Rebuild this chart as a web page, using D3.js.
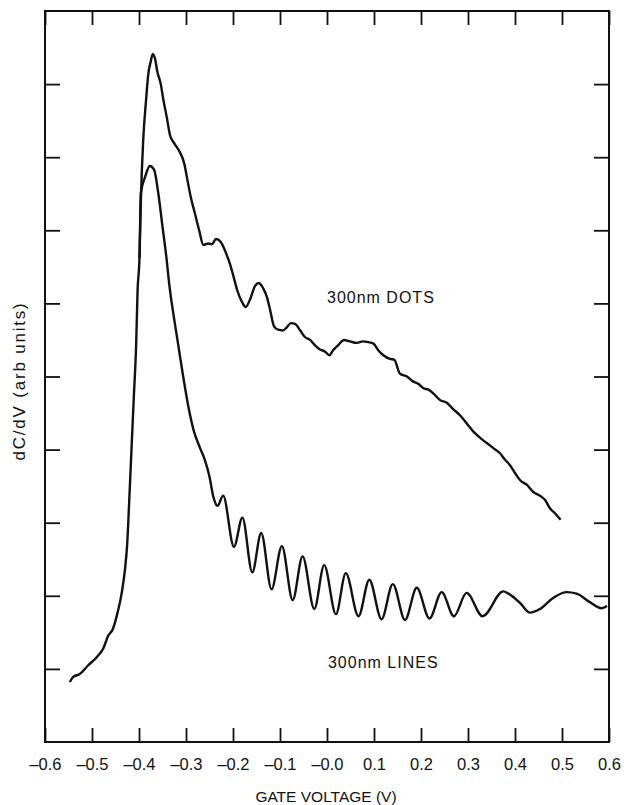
<!DOCTYPE html>
<html>
<head>
<meta charset="utf-8">
<script src="https://cdn.jsdelivr.net/npm/d3@7"></script>
<style>
  body { margin: 0; background: #fff; }
  svg text { font-family: "Liberation Sans", Arial, sans-serif; fill: #111; }
</style>
</head>
<body>
<svg id="chart" width="624" height="805"></svg>
<script>
// gate voltage ticks
const xTicks = [-0.6, -0.5, -0.4, -0.3, -0.2, -0.1, 0, 0.1, 0.2, 0.3, 0.4, 0.5, 0.6];
const xTickLabels = ['\u20130.6', '\u20130.5', '\u20130.4', '\u20130.3', '\u20130.2', '\u20130.1',
  '\u20130.0', '0.1', '0.2', '0.3', '0.4', '0.5', '0.6'];
const yTicks = [1, 2, 3, 4, 5, 6, 7, 8, 9];

// 300nm LINES: [gate voltage, dC/dV]
const linesV = [-0.547, -0.540, -0.526, -0.508, -0.490, -0.476, -0.465, -0.456, -0.446, -0.437,
  -0.430, -0.425, -0.421, -0.416, -0.411, -0.406, -0.403, -0.399, -0.396, -0.387,
  -0.377, -0.368, -0.359, -0.350, -0.341, -0.336, -0.326, -0.316, -0.306, -0.295,
  -0.284, -0.270, -0.260, -0.250, -0.242, -0.233, -0.221, -0.198, -0.180, -0.159,
  -0.140, -0.118, -0.096, -0.073, -0.052, -0.027, -0.006, 0.019, 0.040, 0.067,
  0.090, 0.116, 0.140, 0.166, 0.191, 0.218, 0.244, 0.270, 0.297, 0.331,
  0.375, 0.386, 0.411, 0.432, 0.453, 0.481, 0.510, 0.531, 0.560, 0.584, 0.596];
const linesY = [0.82, 0.89, 0.93, 1.05, 1.16, 1.28, 1.46, 1.54, 1.76, 2.03,
  2.35, 2.72, 3.27, 4.00, 4.72, 5.45, 6.18, 6.62, 7.51, 7.73,
  7.88, 7.83, 7.51, 7.05, 6.59, 6.28, 5.82, 5.41, 5.00, 4.59,
  4.27, 4.02, 3.86, 3.63, 3.36, 3.23, 3.37, 2.67, 3.07, 2.32,
  2.86, 2.09, 2.68, 1.94, 2.54, 1.82, 2.42, 1.75, 2.31, 1.72,
  2.22, 1.68, 2.16, 1.67, 2.11, 1.69, 2.05, 1.72, 2.04, 1.72,
  2.06, 2.03, 1.90, 1.77, 1.82, 1.97, 2.05, 2.03, 1.91, 1.83, 1.86];

// 300nm DOTS
const dotsV = [-0.399, -0.396, -0.391, -0.385, -0.380, -0.375, -0.371, -0.366, -0.361, -0.354,
  -0.348, -0.341, -0.334, -0.325, -0.314, -0.304, -0.297, -0.290, -0.281, -0.272,
  -0.263, -0.253, -0.245, -0.236, -0.226, -0.215, -0.206, -0.199, -0.191, -0.181,
  -0.173, -0.164, -0.153, -0.145, -0.136, -0.128, -0.121, -0.113, -0.104, -0.094,
  -0.086, -0.077, -0.068, -0.057, -0.047, -0.036, -0.026, -0.015, -0.004, 0.005,
  0.013, 0.024, 0.036, 0.049, 0.063, 0.077, 0.088, 0.099, 0.109, 0.120,
  0.134, 0.143, 0.155, 0.170, 0.184, 0.194, 0.205, 0.216, 0.226, 0.240,
  0.255, 0.269, 0.283, 0.297, 0.311, 0.326, 0.340, 0.354, 0.368, 0.379,
  0.389, 0.400, 0.411, 0.425, 0.439, 0.453, 0.464, 0.474, 0.485, 0.497];
const dotsY = [6.62, 7.42, 8.24, 8.78, 9.15, 9.31, 9.41, 9.35, 9.17, 9.01,
  8.78, 8.55, 8.30, 8.19, 8.08, 7.92, 7.69, 7.46, 7.23, 7.00,
  6.80, 6.82, 6.81, 6.88, 6.84, 6.69, 6.53, 6.37, 6.18, 6.02,
  5.95, 6.05, 6.24, 6.28, 6.21, 6.09, 5.91, 5.69, 5.64, 5.63,
  5.67, 5.73, 5.72, 5.63, 5.54, 5.50, 5.43, 5.37, 5.34, 5.29,
  5.36, 5.43, 5.50, 5.48, 5.46, 5.48, 5.47, 5.45, 5.36, 5.29,
  5.24, 5.23, 5.04, 5.00, 4.93, 4.90, 4.84, 4.82, 4.77, 4.68,
  4.64, 4.55, 4.47, 4.36, 4.25, 4.16, 4.09, 4.02, 3.95, 3.86,
  3.79, 3.68, 3.58, 3.52, 3.42, 3.37, 3.31, 3.20, 3.13, 3.04];

const labels = [
  {text: '300nm DOTS', v: 0.0, y: 6.0},
  {text: '300nm LINES', v: 0.002, y: 1.01}
];

const svg = d3.select('#chart');
const frame = {left: 45, right: 609, top: 11, bottom: 742};

const x = d3.scaleLinear().domain([-0.6, 0.6]).range([frame.left, frame.right]);
const y = d3.scaleLinear().domain([0, 10]).range([frame.bottom, frame.top]);

// frame
svg.append('rect')
  .attr('x', frame.left).attr('y', frame.top)
  .attr('width', frame.right - frame.left).attr('height', frame.bottom - frame.top)
  .attr('fill', 'none').attr('stroke', '#111').attr('stroke-width', 2);

// axes, ticks pointing inward
const bottomAxis = svg.append('g')
  .attr('transform', `translate(0,${frame.bottom})`)
  .call(d3.axisBottom(x).tickValues(xTicks).tickSize(-14).tickSizeOuter(0)
    .tickPadding(16).tickFormat((d, i) => xTickLabels[i]));
const topAxis = svg.append('g')
  .attr('transform', `translate(0,${frame.top})`)
  .call(d3.axisTop(x).tickValues(xTicks).tickSize(-14).tickSizeOuter(0).tickFormat(''));
const leftAxis = svg.append('g')
  .attr('transform', `translate(${frame.left},0)`)
  .call(d3.axisLeft(y).tickValues(yTicks).tickSize(-15).tickSizeOuter(0).tickFormat(''));
const rightAxis = svg.append('g')
  .attr('transform', `translate(${frame.right},0)`)
  .call(d3.axisRight(y).tickValues(yTicks).tickSize(-15).tickSizeOuter(0).tickFormat(''));

[bottomAxis, topAxis, leftAxis, rightAxis].forEach(g => {
  g.select('.domain').remove();
  g.selectAll('.tick line').attr('stroke', '#111').attr('stroke-width', 1.8);
});
bottomAxis.selectAll('.tick text')
  .attr('font-size', 16.5).attr('fill', '#111');

// axis titles
svg.append('text')
  .attr('x', (frame.left + frame.right) / 2 - 1).attr('y', 802)
  .attr('text-anchor', 'middle').attr('font-size', 15.5)
  .text('GATE VOLTAGE (V)');
svg.append('text')
  .attr('transform', 'translate(25,381) rotate(-90)')
  .attr('text-anchor', 'middle').attr('font-size', 17)
  .attr('letter-spacing', 1.8)
  .text('dC/dV (arb units)');

// curves
const line = d3.line()
  .x(d => x(d[0]))
  .y(d => y(d[1]))
  .curve(d3.curveMonotoneX);

const series = [
  d3.zip(linesV, linesY),
  d3.zip(dotsV, dotsY)
];

svg.append('g').selectAll('path')
  .data(series)
  .join('path')
  .attr('d', line)
  .attr('fill', 'none')
  .attr('stroke', '#111')
  .attr('stroke-width', 2.4)
  .attr('stroke-linejoin', 'round');

// curve labels
svg.append('g').selectAll('text')
  .data(labels)
  .join('text')
  .attr('x', d => x(d.v))
  .attr('y', d => y(d.y))
  .attr('font-size', 16)
  .attr('letter-spacing', 1)
  .text(d => d.text);
</script>
</body>
</html>
